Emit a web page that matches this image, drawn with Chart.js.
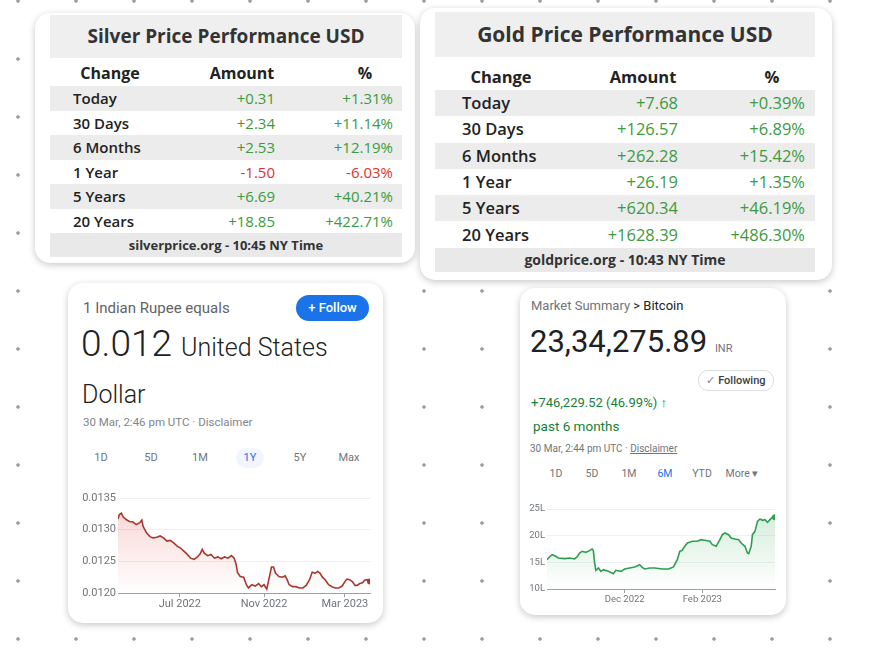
<!DOCTYPE html>
<html>
<head>
<meta charset="utf-8">
<script src="https://cdn.jsdelivr.net/npm/chart.js@4"></script>
<style>
  html, body { margin: 0; padding: 0; }
  body {
    width: 870px; height: 650px; position: relative; overflow: hidden;
    background-color: #fff;
    background-image: radial-gradient(circle, #9a9a9a 0, #9a9a9a 1.3px, rgba(255,255,255,0) 2.2px);
    background-size: 58px 58px;
    background-position: -11px -28px;
    font-family: Roboto, Arial, sans-serif;
  }
  .card { position: absolute; background: #fff; border-radius: 15px; box-shadow: 0 2px 7px rgba(0,0,0,0.22); }
  .t { position: absolute; white-space: nowrap; line-height: 20px; }
  .tab { position: absolute; width: 40px; text-align: center; line-height: 20px; font-size: 11px; color: #70757a; }
  .tbl { position: absolute; font-family: "Open Sans", sans-serif; color: #333; }
  .tbl div { position: absolute; white-space: nowrap; }
  .chartbox { position: absolute; }
</style>
</head>
<body>

<div class="card" id="silver" style="left:35px;top:13px;width:380px;height:250px"></div>
<div class="card" id="gold" style="left:420px;top:8px;width:412px;height:272px"></div>

<div class="card" style="left:68px;top:283px;width:315px;height:340px"></div>
<div class="t" style="left:83px;top:298px;font-size:15px;color:#5f6368">1 Indian Rupee equals</div>
<div class="t" style="left:296px;top:295px;width:73px;height:26px;line-height:26px;border-radius:13px;background:#1a73e8;color:#fff;font-size:13px;font-weight:500;text-align:center">+ Follow</div>
<div class="t" style="left:81px;top:324px;line-height:40px;font-size:37px;color:#202124;font-weight:300">0.012 <span style="font-size:25px;font-weight:300;color:#222">United States</span></div>
<div class="t" style="left:82px;top:380px;line-height:30px;font-size:25px;color:#222;font-weight:300">Dollar</div>
<div class="t" style="left:83px;top:412px;font-size:11.5px;color:#80868b">30 Mar, 2:46 pm UTC · Disclaimer</div>
<div class="tab" style="left:81px;top:448px">1D</div>
<div class="tab" style="left:131px;top:448px">5D</div>
<div class="tab" style="left:180px;top:448px">1M</div>
<div class="tab" style="left:236px;top:448px;width:28px;border-radius:10px;background:#f1f5fd;color:#1a73e8">1Y</div>
<div class="tab" style="left:280px;top:448px">5Y</div>
<div class="tab" style="left:329px;top:448px">Max</div>
<div class="chartbox" style="left:70px;top:485px;width:310px;height:135px"><canvas id="rupeeChart"></canvas></div>

<div class="card" style="left:520px;top:288px;width:266px;height:327px"></div>
<div class="t" style="left:531px;top:296px;font-size:13px;color:#70757a">Market Summary <span style="color:#202124">&gt; Bitcoin</span></div>
<div class="t" style="left:530px;top:322px;line-height:40px;font-size:31px;color:#202124">23,34,275.89 <span style="font-size:11px;color:#70757a">INR</span></div>
<div class="t" style="left:698px;top:370px;width:74px;height:19px;line-height:19px;border:1px solid #dadce0;border-radius:10px;font-size:11px;color:#3c4043;text-align:center;font-weight:500"><span style="color:#80868b">✓</span> Following</div>
<div class="t" style="left:531px;top:393px;font-size:13px;color:#188038">+746,229.52 (46.99%) ↑</div>
<div class="t" style="left:533px;top:416px;font-size:13.5px;color:#188038">past 6 months</div>
<div class="t" style="left:530px;top:439px;font-size:10px;color:#70757a">30 Mar, 2:44 pm UTC · <span style="text-decoration:underline">Disclaimer</span></div>
<div class="tab" style="left:536px;top:464px;font-size:10.5px">1D</div>
<div class="tab" style="left:572px;top:464px;font-size:10.5px">5D</div>
<div class="tab" style="left:609px;top:464px;font-size:10.5px">1M</div>
<div class="tab" style="left:645px;top:464px;font-size:10.5px;color:#1a73e8">6M</div>
<div class="tab" style="left:682px;top:464px;font-size:10.5px">YTD</div>
<div class="tab" style="left:722px;top:464px;font-size:10.5px">More ▾</div>
<div class="chartbox" style="left:522px;top:495px;width:260px;height:115px"><canvas id="btcChart"></canvas></div>

<script>
// table data
const changeLabels = ['Today', '30 Days', '6 Months', '1 Year', '5 Years', '20 Years'];
const silverAmounts = ['+0.31', '+2.34', '+2.53', '-1.50', '+6.69', '+18.85'];
const silverPercents = ['+1.31%', '+11.14%', '+12.19%', '-6.03%', '+40.21%', '+422.71%'];
const goldAmounts = ['+7.68', '+126.57', '+262.28', '+26.19', '+620.34', '+1628.39'];
const goldPercents = ['+0.39%', '+6.89%', '+15.42%', '+1.35%', '+46.19%', '+486.30%'];

// INR -> USD, 1 year (x = day index)
const rupeeDays = [0, 2, 5, 7, 12, 17, 22, 27, 32, 35, 37, 42, 47, 52, 57, 62, 67, 72, 77, 82, 87, 92, 97, 102, 107, 112, 117, 121, 124, 127, 132, 137, 142, 147, 152, 157, 162, 167, 171, 174, 176, 180, 185, 189, 192, 197, 202, 207, 211, 215, 219, 222, 226, 229, 232, 237, 242, 246, 249, 252, 257, 262, 267, 272, 277, 282, 286, 290, 294, 297, 301, 305, 310, 315, 320, 325, 330, 334, 337, 341, 345, 349, 352, 356, 360, 363, 367, 371];
const rupeeValues = [0.01317, 0.01324, 0.01326, 0.01321, 0.01316, 0.01313, 0.01312, 0.01308, 0.01311, 0.01315, 0.01305, 0.01295, 0.01289, 0.01287, 0.01288, 0.01290, 0.01287, 0.01282, 0.01283, 0.01279, 0.01274, 0.01271, 0.01266, 0.01261, 0.01255, 0.01253, 0.01257, 0.01262, 0.01269, 0.01263, 0.01259, 0.01261, 0.01255, 0.01257, 0.01254, 0.01257, 0.01255, 0.01259, 0.01255, 0.01245, 0.01232, 0.01226, 0.01225, 0.01213, 0.01208, 0.01213, 0.01211, 0.01215, 0.01210, 0.01213, 0.01206, 0.01221, 0.01241, 0.01241, 0.01231, 0.01226, 0.01225, 0.01227, 0.01221, 0.01213, 0.01210, 0.01210, 0.01208, 0.01208, 0.01212, 0.01221, 0.01233, 0.01231, 0.01234, 0.01232, 0.01225, 0.01221, 0.01213, 0.01210, 0.01208, 0.01208, 0.01211, 0.01218, 0.01222, 0.01221, 0.01218, 0.01212, 0.01212, 0.01215, 0.01216, 0.01220, 0.01221, 0.01218];
const rupeeYTicks = [0.0120, 0.0125, 0.0130, 0.0135];
const rupeeXTicks = [91, 215, 334];
const rupeeXLabels = ['Jul 2022', 'Nov 2022', 'Mar 2023'];

// Bitcoin in INR lakh, 6 months (x = day index)
const btcDays = [0, 2, 4, 7, 9, 14, 18, 22, 24, 26, 28, 31, 34, 36, 37, 38, 39, 41, 43, 45, 49, 53, 55, 59, 62, 66, 70, 74, 76, 78, 82, 86, 92, 97, 101, 104, 106, 108, 109, 112, 116, 120, 123, 126, 130, 132, 135, 138, 140, 142, 145, 147, 150, 153, 155, 158, 160, 161, 163, 164, 166, 168, 170, 172, 174, 176, 178, 180, 181, 182];
const btcValues = [15.5, 16.0, 16.44, 16.13, 15.81, 15.69, 15.81, 15.63, 16.0, 16.75, 17.06, 16.88, 17.19, 17.5, 17.25, 14.88, 13.5, 13.94, 13.31, 13.63, 13.31, 12.88, 13.5, 13.31, 13.75, 13.94, 14.13, 14.56, 14.06, 13.75, 13.94, 13.94, 13.75, 13.75, 14.13, 15.5, 17.06, 17.25, 17.69, 18.63, 18.94, 18.94, 19.25, 19.13, 18.94, 18.31, 18.0, 19.25, 20.19, 20.5, 20.19, 19.56, 19.38, 19.25, 18.63, 18.0, 16.75, 16.63, 18.0, 20.19, 20.81, 22.69, 23.13, 22.88, 23.0, 22.5, 23.0, 23.5, 23.31, 23.44];
const btcYTicks = [10, 15, 20, 25];
const btcXTicks = [62, 124];
const btcXLabels = ['Dec 2022', 'Feb 2023'];

function buildTable(id, title, amounts, percents, footer, g) {
	const card = document.getElementById(id);
	let html = '';
	const L = g.bandL, W = g.bandW;
	html += `<div style="left:${L}px;top:${g.titleTop}px;width:${W}px;height:${g.titleH}px;line-height:${g.titleH}px;background:#efefef;text-align:center;font-weight:700;font-size:${g.titleFont}px;color:#333">${title}</div>`;
	const head = [['Change', g.headChangeX], ['Amount', g.headAmtX], ['%', g.headPctX]];
	head.forEach(([h, x]) => {
		html += `<div style="left:${x - 60}px;width:120px;text-align:center;top:${g.headTop}px;line-height:${g.headH}px;font-weight:700;font-size:${g.headFont}px;color:#222">${h}</div>`;
	});
	for (let i = 0; i < changeLabels.length; i++) {
		const top = g.rowTop + i * g.rowH;
		const bg = i % 2 === 0 ? '#ececec' : '#fff';
		const col = amounts[i].startsWith('-') ? '#e0342f' : '#3d9a3d';
		html += `<div style="left:${L}px;width:${W}px;top:${top}px;height:${g.rowH}px;background:${bg}"></div>`;
		html += `<div style="left:${g.labelX}px;top:${top}px;line-height:${g.rowH}px;font-size:${g.rowFont}px;font-weight:600;color:#222">${changeLabels[i]}</div>`;
		html += `<div style="right:${g.cardW - g.amtRight}px;top:${top}px;line-height:${g.rowH}px;font-size:${g.rowFont}px;color:${col}">${amounts[i]}</div>`;
		html += `<div style="right:${g.cardW - g.pctRight}px;top:${top}px;line-height:${g.rowH}px;font-size:${g.rowFont}px;color:${col}">${percents[i]}</div>`;
	}
	html += `<div style="left:${L}px;top:${g.footTop}px;width:${W}px;height:${g.footH}px;line-height:${g.footH}px;background:#e9e9e9;text-align:center;font-weight:700;font-size:${g.footFont}px;color:#333">${footer}</div>`;
	card.innerHTML = `<div class="tbl" style="left:0;top:0;width:100%;height:100%">${html}</div>`;
}

buildTable('silver', 'Silver Price Performance USD', silverAmounts, silverPercents, 'silverprice.org - 10:45 NY Time', {
	cardW: 380, bandL: 15, bandW: 352, titleTop: 2, titleH: 43, titleFont: 19,
	headTop: 47, headH: 26, headFont: 16, rowTop: 73, rowH: 24.5, rowFont: 15,
	footTop: 220, footH: 24, footFont: 13,
	labelX: 38, headChangeX: 75, amtRight: 240, headAmtX: 207, pctRight: 358, headPctX: 330,
});
buildTable('gold', 'Gold Price Performance USD', goldAmounts, goldPercents, 'goldprice.org - 10:43 NY Time', {
	cardW: 412, bandL: 15, bandW: 380, titleTop: 4, titleH: 45, titleFont: 21,
	headTop: 55, headH: 27, headFont: 16.5, rowTop: 82, rowH: 26.3, rowFont: 16.5,
	footTop: 240, footH: 24, footFont: 14,
	labelX: 42, headChangeX: 81, amtRight: 258, headAmtX: 223, pctRight: 385, headPctX: 352,
});

function gradient(rgb, a0) {
	return (c) => {
		const area = c.chart.chartArea;
		if (!area) return 'transparent';
		const g = c.chart.ctx.createLinearGradient(0, area.top, 0, area.bottom);
		g.addColorStop(0, `rgba(${rgb},${a0})`);
		g.addColorStop(1, `rgba(${rgb},0)`);
		return g;
	};
}

function makeChart(canvasId, o) {
	const pts = o.days.map((d, i) => ({ x: d, y: o.values[i] }));
	const radii = pts.map((p, i) => (i === pts.length - 1 ? 3 : 0));
	return new Chart(document.getElementById(canvasId), {
		type: 'line',
		data: {
			datasets: [{
				data: pts,
				borderColor: o.line,
				borderWidth: 1.6,
				tension: 0,
				fill: 'start',
				backgroundColor: gradient(o.fill, o.alpha),
				pointRadius: radii,
				pointBackgroundColor: o.line,
				pointBorderWidth: 0,
			}],
		},
		options: {
			responsive: true,
			maintainAspectRatio: false,
			animation: false,
			layout: { padding: { top: o.padTop, right: o.padRight, left: 0, bottom: 0 } },
			plugins: { legend: { display: false }, tooltip: { enabled: false } },
			scales: {
				x: {
					type: 'linear',
					min: o.days[0],
					max: o.days[o.days.length - 1],
					afterBuildTicks: (s) => { s.ticks = o.xTicks.map((v) => ({ value: v })); },
					afterFit: (s) => { s.height = o.xH; },
					ticks: {
						autoSkip: false, maxRotation: 0, padding: 1,
						color: '#70757a', font: { family: 'Roboto', size: o.fontSize },
						callback: (v) => o.xLabels[o.xTicks.indexOf(v)],
					},
					grid: { display: true, drawOnChartArea: false, drawTicks: true, tickLength: 4, color: '#9aa0a6' },
					border: { display: true, color: '#9aa0a6', width: 1 },
				},
				y: {
					min: o.yTicks[0],
					max: o.yTicks[o.yTicks.length - 1],
					afterBuildTicks: (s) => { s.ticks = o.yTicks.map((v) => ({ value: v })); },
					afterFit: (s) => { s.width = o.yW; },
					ticks: {
						padding: 2, color: '#70757a', font: { family: 'Roboto', size: o.fontSize },
						callback: o.yFmt,
					},
					grid: { color: '#efefef', drawTicks: false },
					border: { display: false },
				},
			},
		},
	});
}

makeChart('rupeeChart', {
	days: rupeeDays, values: rupeeValues, xTicks: rupeeXTicks, xLabels: rupeeXLabels, yTicks: rupeeYTicks,
	line: '#a8382e', fill: '217,48,37', alpha: 0.22,
	padTop: 13, padRight: 10, xH: 27, yW: 48, fontSize: 11,
	yFmt: (v) => v.toFixed(4),
});

makeChart('btcChart', {
	days: btcDays, values: btcValues, xTicks: btcXTicks, xLabels: btcXLabels, yTicks: btcYTicks,
	line: '#2e9e4f', fill: '52,168,83', alpha: 0.22,
	padTop: 14, padRight: 7, xH: 21, yW: 25, fontSize: 9.5,
	yFmt: (v) => v + 'L',
});
</script>
</body>
</html>
